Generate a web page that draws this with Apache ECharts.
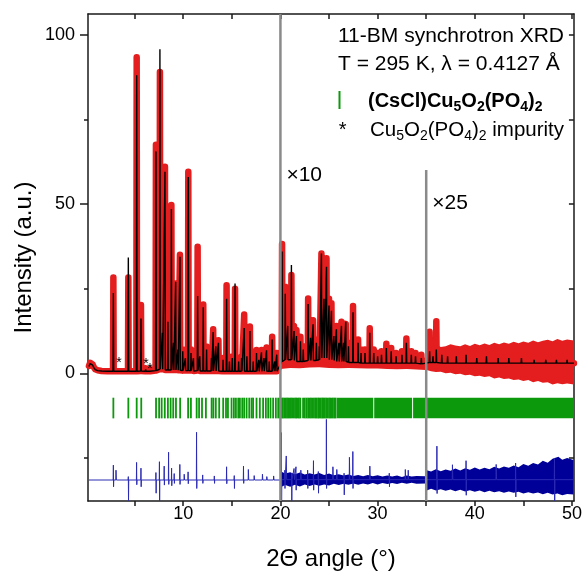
<!DOCTYPE html>
<html><head><meta charset="utf-8">
<script src="https://cdn.jsdelivr.net/npm/echarts@6/dist/echarts.min.js"></script>
<style>html,body{margin:0;padding:0;background:#fff}#c{width:585px;height:573px}</style>
</head><body><div id="c"></div>
<script>
const FAM = '"Liberation Sans", Arial, sans-serif';

// ---- axes ----
const xRange = [0.2, 50.2];
const yRange = [-37.7, 106.1];
const xTickValues = [5, 10, 15, 20, 25, 30, 35, 40, 45, 50];
const xLabelValues = [10, 20, 30, 40, 50];
const yLabelValues = [0, 50, 100];
const yMinorValues = [-25, 25, 75];
const yRightTicks = [-25, 0, 25, 50, 75, 100];

// ---- observed / calculated: start of pattern [2θ, I] ----
const obsStart = [[0.3,2.2],[0.42,3.1],[0.55,3.2],[0.68,2.6],[0.8,1.8],[0.95,1.2],[1.2,0.9],[1.6,0.7],[2.2,0.6]];
const calcStart = [[0.3,2.0],[0.42,2.9],[0.55,3.0],[0.68,2.4],[0.8,1.7],[0.95,1.1],[1.2,0.8],[1.6,0.7],[2.2,0.6]];
const patternEnd = [[50.2, 3.0]];

// ---- peaks: [2θ, observed, calculated, local background] ----
const peaks = [
 [2.81,28.3,23.7,0.6],[4.35,28.3,34.2,0.6],[5.21,93.3,88.0,0.6],[5.65,20.2,16.2,0.7],
 [6.13,1.5,1.2,0.6],[6.58,1.3,1.0,0.6],[7.19,67.5,65.5,0.8],[7.60,89.0,95.7,1.2],
 [7.85,14.0,12.0,1.2],[8.12,61.0,59.5,1.0],[8.42,16.0,15.2,1.0],[8.78,49.7,48.5,1.0],
 [9.00,10.0,9.0,1.0],[9.22,26.5,27.0,1.0],[9.45,8.0,7.0,0.9],[9.66,35.0,34.4,0.9],
 [9.95,7.0,6.5,0.8],[10.22,5.0,4.5,0.8],[10.52,59.5,58.0,0.8],[10.80,7.0,6.0,0.8],
 [11.05,5.0,4.5,0.7],[11.48,37.4,22.8,0.8],[11.70,6.0,5.0,0.7],[12.06,20.3,19.5,0.7],
 [12.40,7.9,7.0,0.7],[12.90,5.0,4.5,0.7],[13.08,13.0,12.2,0.7],[13.35,9.0,8.0,0.7],
 [13.62,9.8,9.0,0.7],[14.10,4.5,4.0,0.6],[14.46,26.0,22.0,0.6],[14.75,4.0,3.5,0.6],
 [15.05,5.0,4.5,0.6],[15.33,25.0,26.5,0.6],[15.70,4.0,3.5,0.6],[16.00,5.0,4.5,0.6],
 [16.27,17.4,13.4,0.6],[16.55,6.0,5.0,0.6],[16.86,13.8,12.5,0.6],[17.20,4.0,3.5,0.6],
 [17.54,6.9,6.0,0.6],[17.78,4.5,4.0,0.6],[18.05,6.9,6.2,0.6],[18.30,5.0,4.5,0.6],
 [18.57,7.6,6.8,0.6],[18.85,4.0,3.5,0.6],[19.15,10.8,10.0,0.6],[19.40,4.0,3.5,0.6],
 [19.62,6.0,5.5,0.6],
 [20.17,38.2,36.0,3.5],[20.50,25.6,23.5,4.0],[20.75,15.0,14.0,4.0],[21.13,29.0,32.0,4.0],
 [21.40,14.0,12.5,3.8],[21.65,12.8,11.0,3.5],[22.06,10.8,9.5,3.5],[22.35,8.0,7.0,3.5],
 [22.85,22.1,20.5,3.8],[23.10,12.0,10.5,3.8],[23.36,15.7,14.5,3.8],[23.70,10.0,9.0,3.8],
 [24.00,9.0,8.0,4.0],[24.22,35.4,35.4,4.5],[24.48,24.0,22.0,4.5],[24.74,34.0,31.5,4.5],
 [25.00,22.0,20.0,4.0],[25.25,20.7,18.5,4.0],[25.50,12.0,11.0,3.8],[25.76,14.0,13.0,3.5],
 [26.02,10.0,9.0,3.5],[26.28,15.2,14.0,3.5],[26.50,10.0,9.0,3.5],[26.72,14.6,15.2,3.5],
 [27.00,9.0,8.0,3.2],[27.47,19.9,18.0,3.2],[27.99,10.0,9.0,3.2],[28.30,7.0,6.0,3.0],
 [28.70,7.0,6.0,3.0],[29.19,13.3,12.0,3.0],[29.60,7.0,6.0,3.0],[30.00,6.0,5.0,3.0],
 [30.40,6.5,5.5,3.0],[30.90,8.7,7.5,3.0],[31.40,7.5,6.5,3.0],[31.90,6.0,5.0,3.0],
 [32.50,6.5,5.5,3.0],[32.96,10.3,9.0,3.0],[33.47,6.5,5.5,3.0],[33.90,6.0,5.0,3.0],
 [34.50,5.5,4.5,2.8],
 [35.35,12.3,6.5,3.2],[35.70,9.0,5.0,3.2],[36.04,15.4,7.0,3.2],[36.60,6.5,5.5,3.0],
 [37.20,6.5,5.0,3.0],[38.10,6.5,5.0,3.0],[39.10,6.5,5.5,3.0],[40.20,6.5,4.5,3.0],
 [41.20,6.5,5.0,3.0],[42.40,6.5,4.5,3.0],[43.50,6.5,4.5,3.0],[44.80,6.5,4.5,3.0],
 [46.10,6.5,4.0,3.0],[47.30,6.5,4.0,3.0],[48.40,6.5,4.0,3.0],[49.50,6.5,4.0,3.0]
];

// ---- observed noise band envelopes (scaled regions) ----
const obsBand10Hi = [[20.0,6.5],[20.6,7.5],[21,7.0],[21.5,7.6],[22,6.5],[22.5,7.2],[23,7.0],[23.5,7.8],[24,7.5],[24.5,8.0],[25,7.2],[25.5,6.8],[26,6.2],[26.5,6.5],[27,5.8],[27.5,6.0],[28,5.4],[28.5,5.6],[29,5.2],[29.5,5.4],[30,4.9],[30.5,5.2],[31,5.0],[31.5,5.1],[32,4.8],[32.5,5.0],[33,5.1],[33.5,4.8],[34,4.7],[34.95,4.6]];
const obsBand10Lo = [[20.0,1.3],[21,1.6],[22,1.5],[23,1.7],[24,1.8],[25,1.6],[26,1.5],[27,1.6],[28,1.5],[29,1.4],[30,1.4],[31,1.3],[32,1.2],[33,1.3],[34,1.1],[34.95,1.0]];
const obsBand25Hi = [[35.05,7.5],[35.5,8.0],[36,8.5],[36.5,7.8],[37,8.0],[37.5,8.6],[38,8.2],[38.5,8.0],[39,8.6],[39.5,8.1],[40,8.7],[40.5,8.3],[41,8.8],[41.5,8.4],[42,9.0],[42.5,8.6],[43,9.1],[43.5,8.7],[44,9.3],[44.5,8.9],[45,9.4],[45.5,9.0],[46,9.7],[46.5,9.2],[47,9.6],[47.5,9.9],[48,9.5],[48.5,10.1],[49,9.6],[49.5,10.0],[50.2,9.7]];
const obsBand25Lo = [[35.05,1.0],[35.5,0.6],[36,0.4],[36.5,0.5],[37,0.0],[37.5,0.2],[38,-0.3],[38.5,-0.1],[39,-0.6],[39.5,-0.4],[40,-0.9],[40.5,-0.7],[41,-1.1],[41.5,-0.9],[42,-1.5],[42.5,-1.2],[43,-1.7],[43.5,-1.5],[44,-2.0],[44.5,-1.8],[45,-2.3],[45.5,-2.0],[46,-2.6],[46.5,-2.3],[47,-2.8],[47.5,-2.6],[48,-3.3],[48.5,-2.9],[49,-3.2],[49.5,-3.0],[50.2,-3.3]];

// ---- difference curve ----
const diffBase = -31.5;
const diffSpikesLow = [ // [2θ, top, bottom]
 [2.81,-27.1,-33.5],[3.08,-28.6,null],[4.35,-30.5,-37.6],[5.20,-26.3,-32.9],[5.65,-28.0,-33.5],
 [7.19,-29.3,-35.4],[7.55,-26.1,-37.6],[8.04,-27.4,-33.0],[8.49,-23.3,-32.8],[8.80,-28.0,-33.2],
 [9.07,-29.6,-32.5],[9.65,-26.9,-32.8],[10.10,-29.8,null],[10.50,-29.1,-32.6],[11.37,-17.4,-34.0],
 [12.00,-30.0,-32.5],[13.20,-30.3,-32.5],[14.46,-27.6,-32.6],[15.25,-30.2,-34.0],[16.20,-27.4,-32.5],
 [16.70,-28.4,null],[17.30,-30.2,null],[18.15,-29.8,null],[18.60,-30.5,null],[19.30,-30.3,null]
];
const diffSpikesHigh = [
 [20.10,-17.5,-37.6],[20.45,-28.6,-34.0],[20.60,-24.4,null],[21.15,-29.5,-37.6],[21.40,-28.1,null],
 [21.60,-27.6,-34.5],[22.10,-28.6,null],[22.80,-28.6,-34.0],[23.40,-25.8,-34.5],[23.90,-29.0,-35.4],
 [24.73,-13.6,-34.0],[25.40,-27.6,null],[25.80,-28.4,null],[26.55,-29.5,-35.9],[27.10,-24.8,null],
 [27.45,-23.1,-34.0],[29.20,-27.4,null],[31.20,-29.5,-33.5],[32.85,-28.4,null],[33.15,-28.6,null],
 [36.10,-21.5,-35.5],[37.70,-27.0,null],[39.10,-25.8,-36.0],[42.20,-26.9,null],[44.20,-26.5,-36.5],
 [48.20,-25.0,-37.6]
];
const diffBand10Hi = [[20.05,-29.0],[20.5,-29.6],[21,-29.2],[21.5,-29.8],[22,-29.3],[22.5,-29.9],[23,-29.5],[23.5,-29.9],[24,-29.4],[24.5,-30.0],[25,-29.6],[25.5,-30.1],[26,-29.8],[26.5,-30.2],[27,-29.9],[27.5,-30.3],[28,-30.0],[28.5,-30.4],[29,-30.0],[29.5,-30.4],[30,-30.1],[30.5,-30.5],[31,-30.2],[31.5,-30.5],[32,-30.2],[32.5,-30.6],[33,-30.2],[33.5,-30.5],[34,-30.3],[34.95,-30.4]];
const diffBand10Lo = [[20.05,-33.6],[20.5,-33.0],[21,-33.5],[21.5,-32.9],[22,-33.4],[22.5,-32.8],[23,-33.3],[23.5,-32.8],[24,-33.2],[24.5,-32.8],[25,-33.1],[25.5,-32.6],[26,-33.0],[26.5,-32.6],[27,-32.9],[27.5,-32.5],[28,-32.9],[28.5,-32.5],[29,-32.8],[29.5,-32.4],[30,-32.8],[30.5,-32.4],[31,-32.7],[31.5,-32.4],[32,-32.7],[32.5,-32.3],[33,-32.6],[33.5,-32.3],[34,-32.6],[34.95,-32.5]];
const diffBand25Hi = [[35.05,-28.6],[35.5,-29.0],[36,-28.3],[36.5,-28.9],[37,-28.4],[37.5,-28.8],[38,-28.1],[38.5,-28.7],[39,-28.0],[39.5,-28.5],[40,-27.8],[40.5,-28.4],[41,-27.9],[41.5,-28.3],[42,-27.6],[42.5,-28.1],[43,-27.5],[43.5,-27.9],[44,-27.2],[44.5,-27.7],[45,-26.8],[45.5,-27.3],[46,-26.5],[46.5,-26.9],[47,-25.8],[47.5,-26.4],[48,-25.2],[48.6,-24.6],[49,-25.5],[49.5,-25.0],[50.15,-25.6]];
const diffBand25Lo = [[35.05,-34.6],[35.5,-34.1],[36,-34.6],[36.5,-34.2],[37,-34.7],[37.5,-34.3],[38,-34.8],[38.5,-34.4],[39,-34.9],[39.5,-34.5],[40,-35.0],[40.5,-34.6],[41,-35.1],[41.5,-34.7],[42,-35.1],[42.5,-34.8],[43,-35.3],[43.5,-34.9],[44,-35.3],[44.5,-35.0],[45,-35.5],[45.5,-35.1],[46,-35.5],[46.5,-35.2],[47,-35.7],[47.5,-35.3],[48,-35.8],[48.5,-35.5],[49,-36.0],[49.5,-35.6],[50.15,-35.8]];

// ---- Bragg reflections ----
const reflections = [2.81,4.35,5.21,5.68,7.20,7.52,7.78,8.10,8.42,8.70,8.97,9.25,9.68,10.50,10.79,11.38,11.63,11.93,12.33,12.92,13.10,13.35,13.70,14.11,14.40,14.60,14.97,15.21,15.42,15.66,15.83,16.07,16.27,16.52,16.79,17.03,17.19,17.54,17.88,18.22,18.50,18.74,18.98,19.25,19.53,19.77,19.95,20.12,20.25,20.40,20.55,20.68,20.80,20.95,21.08,21.20,21.35,21.50,21.62,21.75,21.90,22.05,22.33,22.50,22.68,22.85,23.02,23.15,23.30,23.45,23.60,23.72,23.88,24.00,24.15,24.30,24.42,24.55,24.70,24.85,25.00,25.12,25.27,25.40,25.55,25.68];
const reflectionBands = [[25.8,29.55],[29.65,33.55],[33.65,50.2]];
const reflRow = [-7.2, -13.3];

// ---- scale breaks ----
const breakAt = [20, 35];
const breakTop = [106.1, 60];
const breakLabel = ['\u00d710', '\u00d725'];
const breakLabelY = [58.6, 50.3];

// ---- impurity marks ----
const impurityPos = [[3.39,3.9],[6.17,3.7],[6.58,2.1]];

// ---- colours ----
const RED = '#e41e1e', GREEN = '#0c990c', BLUE = '#000099', GRAY = '#8a8a8a';

// build profile lines from peak table
const HW = 0.035;
function profile(start, col) {
  const pts = start.slice();
  peaks.forEach(p => { pts.push([p[0]-HW, p[3]], [p[0], p[col]], [p[0]+HW, p[3]]); });
  return pts.concat(patternEnd);
}
function diffLine(spikes, from, to, base) {
  const pts = [[from, base]];
  spikes.forEach(s => {
    pts.push([s[0]-0.02, base], [s[0], s[1]]);
    if (s[2] !== null) pts.push([s[0]+0.02, s[2]]);
    pts.push([s[0]+0.04, base]);
  });
  pts.push([to, base]);
  return pts;
}
function bandSeries(bands, color, z) {
  return {
    type: 'custom', z: z, silent: true,
    data: bands.map((b, i) => i),
    renderItem: (p, api) => {
      const b = bands[p.dataIndex];
      const pts = b[0].map(d => api.coord(d)).concat(b[1].slice().reverse().map(d => api.coord(d)));
      return { type: 'polygon', shape: { points: pts }, style: { fill: color } };
    }
  };
}

const chart = echarts.init(document.getElementById('c'), null, { renderer: 'canvas' });
const axisLine = { show: true, onZero: false, lineStyle: { color: '#1a1a1a', width: 1.5 } };
const tickStyle = { color: '#1a1a1a', width: 1.5 };

chart.setOption({
  animation: false,
  backgroundColor: '#fff',
  grid: { left: 88, right: 10.5, top: 14, bottom: 72 },
  xAxis: [
    { type: 'value', position: 'bottom', min: xRange[0], max: xRange[1], axisLine: axisLine,
      axisTick: { show: true, length: 5, lineStyle: tickStyle, customValues: xTickValues },
      axisLabel: { show: true, fontSize: 18, fontFamily: FAM, color: '#000', margin: 4, customValues: xLabelValues },
      splitLine: { show: false } },
    { type: 'value', position: 'top', min: xRange[0], max: xRange[1], axisLine: axisLine,
      axisTick: { show: true, inside: true, length: 5, lineStyle: tickStyle, customValues: xTickValues },
      axisLabel: { show: false }, splitLine: { show: false } }
  ],
  yAxis: [
    { type: 'value', position: 'left', min: yRange[0], max: yRange[1], axisLine: axisLine,
      axisTick: { show: true, length: 8, lineStyle: tickStyle, customValues: yLabelValues },
      axisLabel: { show: true, fontSize: 18, fontFamily: FAM, color: '#000', margin: 13, customValues: yLabelValues },
      splitLine: { show: false } },
    { type: 'value', position: 'left', min: yRange[0], max: yRange[1], axisLine: { show: false, onZero: false },
      axisTick: { show: true, length: 4, lineStyle: tickStyle, customValues: yMinorValues },
      axisLabel: { show: false }, splitLine: { show: false } },
    { type: 'value', position: 'right', min: yRange[0], max: yRange[1], axisLine: axisLine,
      axisTick: { show: true, inside: true, length: 5, lineStyle: tickStyle, customValues: yRightTicks },
      axisLabel: { show: false }, splitLine: { show: false } }
  ],
  series: [
    bandSeries([[obsBand10Hi, obsBand10Lo], [obsBand25Hi, obsBand25Lo]], RED, 2),
    { type: 'line', z: 3, data: profile(obsStart, 1), symbol: 'none', silent: true,
      lineStyle: { color: RED, width: 6.5, cap: 'round', join: 'round' } },
    { type: 'line', z: 4, data: profile(calcStart, 2), symbol: 'none', silent: true,
      lineStyle: { color: '#000', width: 1.4 } },
    // Bragg reflections
    { type: 'custom', z: 3, silent: true, data: reflections.map(t => [t]),
      renderItem: (p, api) => {
        const a = api.coord([api.value(0), reflRow[0]]), b = api.coord([api.value(0), reflRow[1]]);
        return { type: 'rect', shape: { x: a[0] - 0.9, y: a[1], width: 1.8, height: b[1] - a[1] }, style: { fill: GREEN } };
      } },
    { type: 'custom', z: 3, silent: true, data: reflectionBands,
      renderItem: (p, api) => {
        const a = api.coord([api.value(0), reflRow[0]]), b = api.coord([api.value(1), reflRow[1]]);
        return { type: 'rect', shape: { x: a[0], y: a[1], width: b[0] - a[0], height: b[1] - a[1] }, style: { fill: GREEN } };
      } },
    // difference
    { type: 'line', z: 3, data: diffLine(diffSpikesLow, 0.3, 19.97, diffBase), symbol: 'none', silent: true,
      lineStyle: { color: '#2a2ab4', width: 1 } },
    bandSeries([[diffBand10Hi, diffBand10Lo], [diffBand25Hi, diffBand25Lo]], BLUE, 3),
    { type: 'line', z: 3, data: diffLine(diffSpikesHigh, 20.03, 50.15, diffBase + 0.1), symbol: 'none', silent: true,
      lineStyle: { color: '#2a2ab4', width: 1 } },
    // scale breaks
    { type: 'custom', z: 6, silent: true, data: breakAt.map(t => [t]),
      renderItem: (p, api) => {
        const i = p.dataIndex;
        const top = api.coord([breakAt[i], breakTop[i]]);
        const bot = api.coord([breakAt[i], yRange[0]]);
        const lab = api.coord([breakAt[i], breakLabelY[i]]);
        return { type: 'group', children: [
          { type: 'line', shape: { x1: top[0], y1: top[1], x2: bot[0], y2: bot[1] }, style: { stroke: GRAY, lineWidth: 2.5 } },
          { type: 'text', x: lab[0] + 6, y: lab[1], style: { text: breakLabel[i], font: '21px ' + FAM, fill: '#000', textAlign: 'left', textVerticalAlign: 'middle' } }
        ] };
      } },
    // impurity asterisks
    { type: 'custom', z: 7, silent: true, data: impurityPos,
      renderItem: (p, api) => {
        const c = api.coord([api.value(0), api.value(1)]);
        return { type: 'text', x: c[0], y: c[1] + 3, style: { text: '*', font: '14px ' + FAM, fill: '#000', textAlign: 'center', textVerticalAlign: 'middle' } };
      } }
  ],
  graphic: [
    { type: 'text', x: 331, y: 559, style: { text: '2\u0398 angle (\u00b0)', font: '24px ' + FAM, fill: '#000', textAlign: 'center', textVerticalAlign: 'middle' } },
    { type: 'text', x: 24, y: 257.5, rotation: Math.PI / 2, style: { text: 'Intensity (a.u.)', font: '24px ' + FAM, fill: '#000', textAlign: 'center', textVerticalAlign: 'middle' } },
    { type: 'text', x: 338, y: 36.3, style: { text: '11-BM synchrotron XRD', font: '21px ' + FAM, fill: '#000', textAlign: 'left', textVerticalAlign: 'middle' } },
    { type: 'text', x: 338, y: 64.2, style: { text: 'T = 295 K, \u03bb = 0.4127 \u00c5', font: '21px ' + FAM, fill: '#000', textAlign: 'left', textVerticalAlign: 'middle' } },
    { type: 'rect', shape: { x: 338.5, y: 91, width: 2, height: 18 }, style: { fill: GREEN } },
    { type: 'text', x: 368, y: 90, style: {
        text: '{b|(CsCl)Cu}{s|5}{b|O}{s|2}{b|(PO}{s|4}{b|)}{s|2}', textAlign: 'left', textVerticalAlign: 'top',
        rich: {
          b: { fontSize: 20, fontWeight: 'bold', fontFamily: FAM, fill: '#000', height: 22, verticalAlign: 'top' },
          s: { fontSize: 14, fontWeight: 'bold', fontFamily: FAM, fill: '#000', height: 34, verticalAlign: 'top' }
        } } },
    { type: 'text', x: 342.7, y: 130, style: { text: '*', font: '20px ' + FAM, fill: '#000', textAlign: 'center', textVerticalAlign: 'middle' } },
    { type: 'text', x: 370, y: 119, style: {
        text: '{n|Cu}{s|5}{n|O}{s|2}{n|(PO}{s|4}{n|)}{s|2}{n| impurity}', textAlign: 'left', textVerticalAlign: 'top',
        rich: {
          n: { fontSize: 20.5, fontFamily: FAM, fill: '#000', height: 22, verticalAlign: 'top' },
          s: { fontSize: 14, fontFamily: FAM, fill: '#000', height: 34, verticalAlign: 'top' }
        } } }
  ]
});
</script>
</body></html>
